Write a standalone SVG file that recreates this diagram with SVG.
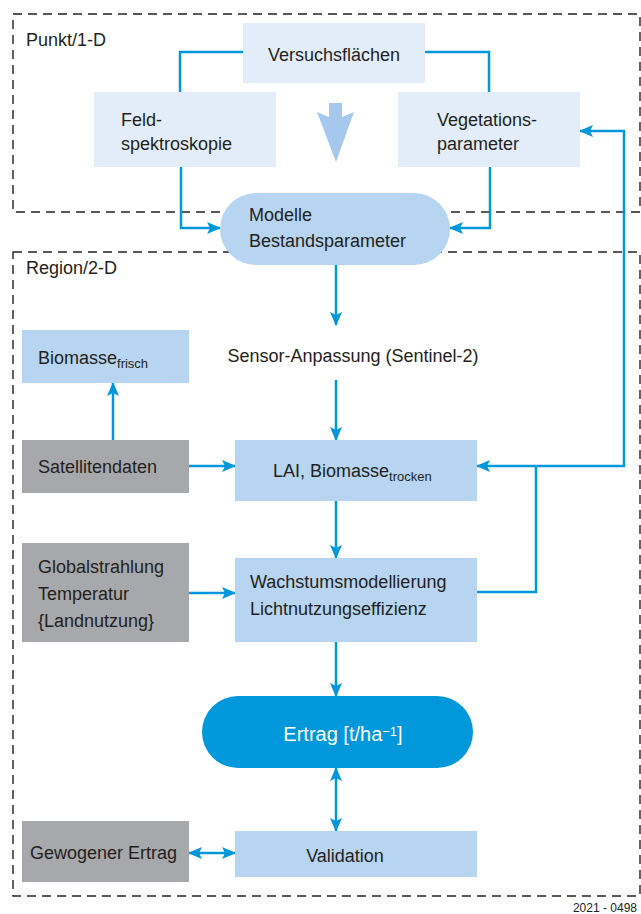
<svg xmlns="http://www.w3.org/2000/svg" width="641" height="914" viewBox="0 0 641 914">
<defs>
<marker id="ah" viewBox="0 0 14 12" refX="13" refY="6" markerWidth="14" markerHeight="12" markerUnits="userSpaceOnUse" orient="auto-start-reverse">
<path d="M0,0 L14,6 L0,12 L3,6 z" fill="#0098da"/>
</marker>
<style>
text{font-family:"Liberation Sans",Arial,sans-serif;font-size:18px;fill:#231f20}
.zone{fill:none;stroke:#222;stroke-width:1.4;stroke-dasharray:9,6}
.pale{fill:#e3edf9}
.lb{fill:#b7d5f0}
.gr{fill:#a7a8ab}
.c{fill:none;stroke:#0098da;stroke-width:2.5}
.sub{font-size:13px}
</style>
</defs>
<rect width="641" height="914" fill="#fff"/>
<g id="zone-punkt">
<rect class="zone" x="13" y="14" width="627" height="198"/>
<text x="26" y="46">Punkt/1-D</text>
</g>
<g id="zone-region">
<rect class="zone" x="13" y="252" width="627" height="644"/>
<text x="26" y="274">Region/2-D</text>
</g>
<g id="connectors">
<path class="c" d="M243,52 H180 V92"/>
<path class="c" d="M425,52 H489 V92"/>
<path class="c" d="M181,167 V228 H220" marker-end="url(#ah)"/>
<path class="c" d="M490,167 V228 H450" marker-end="url(#ah)"/>
<path class="c" d="M336,265 V325" marker-end="url(#ah)"/>
<path class="c" d="M336,380 V440" marker-end="url(#ah)"/>
<path class="c" d="M113,440 V383" marker-end="url(#ah)"/>
<path class="c" d="M189,466 H235" marker-end="url(#ah)"/>
<path class="c" d="M336,501 V558" marker-end="url(#ah)"/>
<path class="c" d="M189,593 H235" marker-end="url(#ah)"/>
<path class="c" d="M336,642 V696" marker-end="url(#ah)"/>
<path class="c" d="M336,768 V831" marker-start="url(#ah)" marker-end="url(#ah)"/>
<path class="c" d="M189,853 H235" marker-start="url(#ah)" marker-end="url(#ah)"/>
<path class="c" d="M536,466 H624 V131 H580" marker-end="url(#ah)"/>
<path class="c" d="M536,466 H477" marker-end="url(#ah)"/>
<path class="c" d="M477,592 H536 V466"/>
<polygon points="329,103 342,103 342,117 354,112 336,162 317,112 329,117" fill="#a6c8ec"/>
</g>
<g id="versuchsflaechen">
<rect class="pale" x="243" y="23" width="182" height="60"/>
<text x="334" y="61" text-anchor="middle">Versuchsflächen</text>
</g>
<g id="feldspektroskopie">
<rect class="pale" x="94" y="92" width="182" height="75"/>
<text x="121" y="126">Feld-</text>
<text x="121" y="150">spektroskopie</text>
</g>
<g id="vegetationsparameter">
<rect class="pale" x="398" y="92" width="182" height="75"/>
<text x="437" y="126">Vegetations-</text>
<text x="437" y="150">parameter</text>
</g>
<g id="modelle">
<rect class="lb" x="220" y="193" width="230" height="72" rx="36"/>
<text x="249" y="221">Modelle</text>
<text x="249" y="247">Bestandsparameter</text>
</g>
<g id="sensor">
<text x="353" y="362" text-anchor="middle">Sensor-Anpassung (Sentinel-2)</text>
</g>
<g id="biomasse-frisch">
<rect class="lb" x="22" y="330" width="167" height="53"/>
<text x="38" y="364">Biomasse<tspan class="sub" dy="4">frisch</tspan></text>
</g>
<g id="satellitendaten">
<rect class="gr" x="22" y="440" width="167" height="53"/>
<text x="38" y="473">Satellitendaten</text>
</g>
<g id="lai">
<rect class="lb" x="235" y="440" width="242" height="61"/>
<text x="273" y="477">LAI, Biomasse<tspan class="sub" dy="4">trocken</tspan></text>
</g>
<g id="globalstrahlung">
<rect class="gr" x="22" y="543" width="167" height="99"/>
<text x="38" y="573">Globalstrahlung</text>
<text x="38" y="600">Temperatur</text>
<text x="38" y="627">{Landnutzung}</text>
</g>
<g id="wachstum">
<rect class="lb" x="235" y="558" width="242" height="84"/>
<text x="250" y="588">Wachstumsmodellierung</text>
<text x="250" y="615">Lichtnutzungseffizienz</text>
</g>
<g id="ertrag">
<rect x="202" y="696" width="271" height="72" rx="36" fill="#0098da"/>
<text x="343" y="741" text-anchor="middle" style="fill:#fff;font-size:20px">Ertrag [t/ha<tspan style="font-size:13px" dy="-5">−1</tspan><tspan dy="5">]</tspan></text>
</g>
<g id="validation">
<rect class="lb" x="235" y="831" width="242" height="46"/>
<text x="345" y="862" text-anchor="middle">Validation</text>
</g>
<g id="gewogener">
<rect class="gr" x="22" y="821" width="167" height="61"/>
<text x="30" y="859">Gewogener Ertrag</text>
</g>
<text x="637" y="912" text-anchor="end" style="font-size:12px">2021 - 0498</text>
</svg>
